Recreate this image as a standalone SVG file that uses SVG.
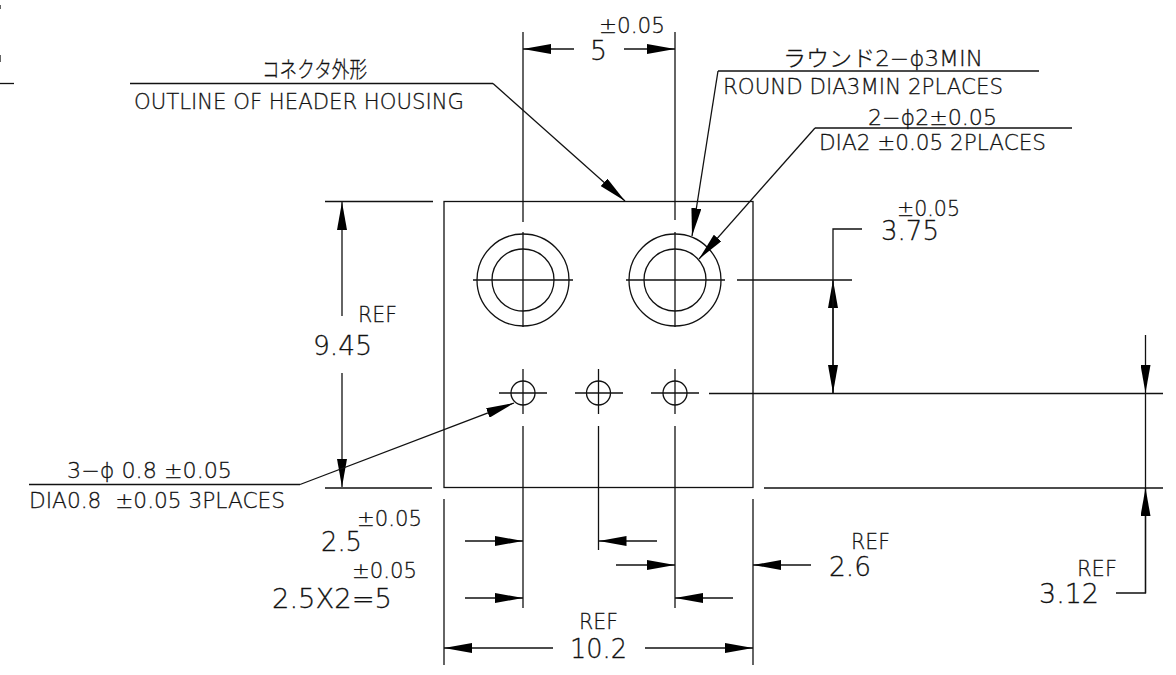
<svg xmlns="http://www.w3.org/2000/svg" width="1176" height="675" viewBox="0 0 1176 675">
<style>
line,polyline,circle,rect{fill:none;stroke:#111;stroke-width:1.3}
.a{marker-end:url(#ah)}
text{font-family:"DejaVu Sans","Noto Sans CJK JP",sans-serif;font-weight:200;fill:#111;stroke:#111;stroke-width:.3;font-size:22px}
.m{font-size:27px}
</style>
<defs>
<marker id="ah" markerUnits="userSpaceOnUse" viewBox="0 0 28 10" refX="28" refY="5" markerWidth="28" markerHeight="10" orient="auto"><path d="M0 0 L28 5 L0 10 Z" fill="#000"/></marker>
</defs>
<g id="housing">
<rect x="444" y="201.500" width="309" height="286"/>
</g>
<g id="hole-large-1">
<circle cx="523" cy="280" r="46"/><circle cx="523" cy="280" r="31"/>
<line x1="473" y1="280" x2="573" y2="280"/><line x1="523" y1="232" x2="523" y2="327"/>
</g>
<g id="hole-large-2">
<circle cx="675" cy="280" r="46"/><circle cx="675" cy="280" r="31"/>
<line x1="626" y1="280" x2="725" y2="280"/><line x1="675" y1="232" x2="675" y2="327"/>
</g>
<g id="hole-small-1">
<circle cx="523" cy="393" r="12"/>
<line x1="499" y1="393" x2="547" y2="393"/><line x1="523" y1="369" x2="523" y2="414"/>
</g>
<g id="hole-small-2">
<circle cx="598.500" cy="393" r="12"/>
<line x1="575" y1="393" x2="623" y2="393"/><line x1="598.500" y1="369" x2="598.500" y2="414"/>
</g>
<g id="hole-small-3">
<circle cx="675" cy="393" r="12"/>
<line x1="651" y1="393" x2="699" y2="393"/><line x1="675" y1="369" x2="675" y2="414"/>
</g>
<g id="connectors">
<line x1="0" y1="83.500" x2="14" y2="83.500"/><line x1="0" y1="5" x2="0" y2="9"/><line x1="0" y1="55" x2="0" y2="62"/>
<line x1="523" y1="32" x2="523" y2="222"/><line x1="675" y1="32" x2="675" y2="220"/>
<line class="a" x1="574" y1="49" x2="523" y2="49"/><line class="a" x1="624" y1="49" x2="675" y2="49"/>
<polyline points="130,83.500 493,83.500"/><line class="a" x1="493" y1="83.500" x2="625" y2="201"/>
<polyline points="1039,71 718,71"/><line class="a" x1="718" y1="71" x2="692" y2="236"/>
<polyline points="1072,128 815,128"/><line class="a" x1="815" y1="128" x2="699" y2="259"/>
<line x1="737" y1="280" x2="852" y2="280"/>
<line x1="709" y1="393.500" x2="1163" y2="393.500"/>
<line x1="764" y1="488" x2="1163" y2="488"/>
<polyline points="862,229 833,229 833,280"/>
<line class="a" x1="833" y1="393" x2="833" y2="280"/><line class="a" x1="833" y1="280" x2="833" y2="393"/>
<line x1="325" y1="201.500" x2="433" y2="201.500"/><line x1="325" y1="488" x2="432" y2="488"/>
<line class="a" x1="342" y1="316" x2="342" y2="202"/><line class="a" x1="342" y1="373" x2="342" y2="487"/>
<line x1="444" y1="499" x2="444" y2="665"/><line x1="753" y1="499" x2="753" y2="665"/>
<line class="a" x1="553" y1="648" x2="444" y2="648"/><line class="a" x1="645" y1="648" x2="753" y2="648"/>
<polyline points="29,484.500 300,484.500"/><line class="a" x1="300" y1="484.500" x2="514" y2="403"/>
<line x1="523" y1="426" x2="523" y2="608"/><line x1="598.500" y1="426" x2="598.500" y2="550"/><line x1="675" y1="426" x2="675" y2="608"/>
<line class="a" x1="465" y1="541" x2="523" y2="541"/><line class="a" x1="465" y1="598" x2="523" y2="598"/>
<line class="a" x1="657" y1="541" x2="598.500" y2="541"/><line class="a" x1="733" y1="598" x2="675" y2="598"/>
<line class="a" x1="616" y1="565" x2="675" y2="565"/><line class="a" x1="811" y1="565" x2="753" y2="565"/>
<line class="a" x1="1145.500" y1="335" x2="1145.500" y2="393"/>
<polyline points="1116,593 1145.500,593 1145.500,393"/><line class="a" x1="1145.500" y1="593" x2="1145.500" y2="488"/>
</g>
<g id="labels">
<text x="262" y="77" textLength="105" lengthAdjust="spacingAndGlyphs">コネクタ外形</text>
<text x="134" y="109" textLength="330" lengthAdjust="spacingAndGlyphs">OUTLINE OF HEADER HOUSING</text>
<text x="599" y="33" textLength="66" lengthAdjust="spacingAndGlyphs">±0.05</text>
<text class="m" x="590" y="60" textLength="17" lengthAdjust="spacingAndGlyphs">5</text>
<text x="783" y="66" textLength="200" lengthAdjust="spacingAndGlyphs">ラウンド2−ϕ3MIN</text>
<text x="723" y="94" textLength="280" lengthAdjust="spacingAndGlyphs">ROUND DIA3MIN 2PLACES</text>
<text x="868" y="125" textLength="129" lengthAdjust="spacingAndGlyphs">2−ϕ2±0.05</text>
<text x="819" y="150" textLength="227" lengthAdjust="spacingAndGlyphs">DIA2 ±0.05 2PLACES</text>
<text x="897" y="216" textLength="63" lengthAdjust="spacingAndGlyphs">±0.05</text>
<text class="m" x="881" y="240" textLength="58" lengthAdjust="spacingAndGlyphs">3.75</text>
<text x="358" y="322" textLength="39" lengthAdjust="spacingAndGlyphs">REF</text>
<text class="m" x="313" y="355" textLength="59" lengthAdjust="spacingAndGlyphs">9.45</text>
<text x="67" y="478" textLength="165" lengthAdjust="spacingAndGlyphs">3−ϕ 0.8 ±0.05</text>
<text xml:space="preserve" x="29" y="508" textLength="256" lengthAdjust="spacingAndGlyphs">DIA0.8  ±0.05 3PLACES</text>
<text x="357" y="526" textLength="65" lengthAdjust="spacingAndGlyphs">±0.05</text>
<text class="m" x="321" y="551" textLength="41" lengthAdjust="spacingAndGlyphs">2.5</text>
<text x="352" y="578" textLength="65" lengthAdjust="spacingAndGlyphs">±0.05</text>
<text class="m" x="272" y="608" textLength="120" lengthAdjust="spacingAndGlyphs">2.5X2=5</text>
<text x="851" y="549" textLength="39" lengthAdjust="spacingAndGlyphs">REF</text>
<text class="m" x="829" y="576" textLength="42" lengthAdjust="spacingAndGlyphs">2.6</text>
<text x="579" y="629" textLength="39" lengthAdjust="spacingAndGlyphs">REF</text>
<text class="m" x="570" y="658" textLength="57" lengthAdjust="spacingAndGlyphs">10.2</text>
<text x="1077" y="576" textLength="40" lengthAdjust="spacingAndGlyphs">REF</text>
<text class="m" x="1039" y="603" textLength="60" lengthAdjust="spacingAndGlyphs">3.12</text>
</g>
</svg>
